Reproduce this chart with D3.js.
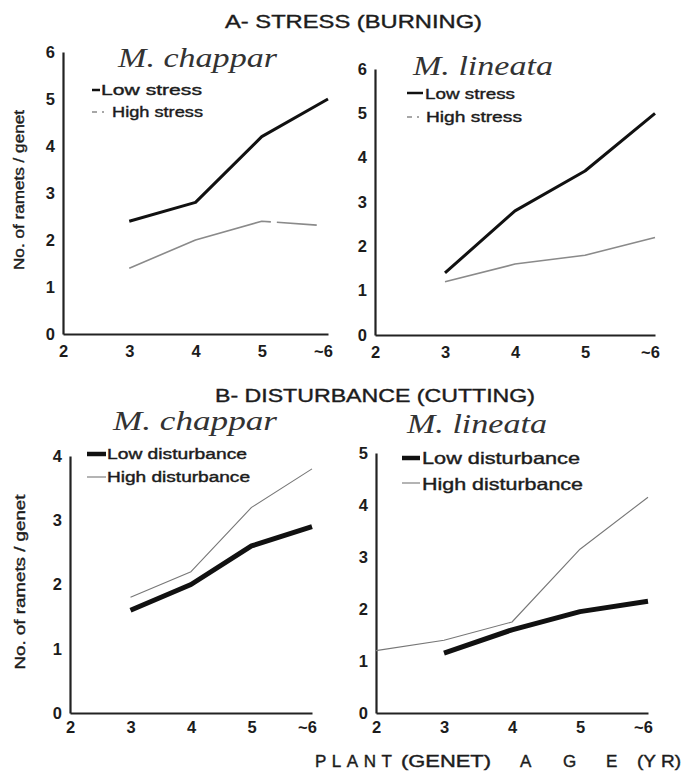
<!DOCTYPE html>
<html>
<head>
<meta charset="utf-8">
<script src="https://cdn.jsdelivr.net/npm/d3@7/dist/d3.min.js"></script>
<style>
  body { margin: 0; background: #fff; }
  svg text { fill: #1c1c1c; }
</style>
</head>
<body>
<svg width="683" height="780"></svg>
<script>
// ages on the x axis and their printed labels
var ages = [2, 3, 4, 5, 6];
var ageLabels = ["2", "3", "4", "5", "~6"];

// A - stress (burning)
var aChapparLow = [null, 2.4, 2.8, 4.2, 5.0];
var aChapparHigh = [null, 1.4, 2.0, 2.4, 2.3];
var aLineataLow = [null, 1.4, 2.8, 3.7, 5.0];
var aLineataHigh = [null, 1.2, 1.6, 1.8, 2.2];

// B - disturbance (cutting)
var bChapparLow = [null, 1.6, 2.0, 2.6, 2.9];
var bChapparHigh = [null, 1.8, 2.2, 3.2, 3.8];
var bLineataLow = [null, 1.15, 1.6, 1.95, 2.15];
var bLineataHigh = [1.2, 1.4, 1.75, 3.15, 4.15];

var stressNames = ["Low stress", "High stress"];
var disturbNames = ["Low disturbance", "High disturbance"];
var yTicksA = [0, 1, 2, 3, 4, 5, 6];
var yTicksBChappar = [0, 1, 2, 3, 4];
var yTicksBLineata = [0, 1, 2, 3, 4, 5];

var svg = d3.select("svg");
var sans = "'Liberation Sans', Arial, sans-serif";
var serif = "'Liberation Serif', 'Times New Roman', serif";

// text helper, width forced to match the scan
function label(x, y, str, size, opts) {
  opts = opts || {};
  var t = svg.append("text")
    .attr("x", x).attr("y", y)
    .attr("font-family", opts.family || sans)
    .attr("font-size", size)
    .attr("stroke", opts.family ? "none" : "#1c1c1c")
    .attr("stroke-width", opts.sw != null ? opts.sw : 0.4)
    .text(str);
  if (opts.italic) t.attr("font-style", "italic").style("fill", "#333");
  if (opts.len) t.attr("textLength", opts.len).attr("lengthAdjust", "spacingAndGlyphs");
  if (opts.ls) t.attr("letter-spacing", opts.ls);
  if (opts.rotate) t.attr("transform", "rotate(-90," + x + "," + y + ")").attr("text-anchor", "middle");
  return t;
}

function panel(p) {
  var x = d3.scaleLinear().domain([2, 6]).range(p.xr);
  var y = d3.scaleLinear().domain([0, p.yMax]).range(p.yr);
  var g = svg.append("g");

  var xAxis = g.append("g")
    .attr("transform", "translate(0," + p.yr[0] + ")")
    .call(d3.axisBottom(x).tickValues(ages).tickSize(0).tickPadding(p.xPad)
      .tickFormat(function(d, i) { return ageLabels[i]; }));
  var yAxis = g.append("g")
    .attr("transform", "translate(" + p.xr[0] + ",0)")
    .call(d3.axisLeft(y).tickValues(p.yTicks).tickSize(0).tickPadding(8).tickFormat(d3.format("d")));

  [xAxis, yAxis].forEach(function(a) {
    a.select(".domain").attr("stroke", "#222").attr("stroke-width", 2.2);
    a.selectAll("text").attr("font-family", sans).attr("font-size", 16.5)
      .attr("font-weight", "bold").attr("fill", "#222");
  });
  // the "~6" label sits a little left so its 6 lines up with the tick
  xAxis.selectAll(".tick text").filter(function(d) { return d === 6; }).attr("dx", -5);

  var line = d3.line()
    .defined(function(d) { return d != null; })
    .x(function(d, i) { return x(ages[i]); })
    .y(function(d) { return y(d); });

  p.series.forEach(function(s) {
    g.append("path")
      .attr("d", line(s.values))
      .attr("fill", "none")
      .attr("stroke", s.color)
      .attr("stroke-width", s.width)
      .attr("stroke-dasharray", s.dash || null)
      .attr("stroke-linejoin", "round");
  });
}

panel({
  xr: [63, 328], yr: [334, 52], yMax: 6, yTicks: yTicksA, xPad: 11,
  series: [
    {values: aChapparLow, color: "#111", width: 3},
    {values: aChapparHigh, color: "#8a8a8a", width: 1.6, dash: "150,6,40"}
  ]
});
panel({
  xr: [375, 655], yr: [335, 69], yMax: 6, yTicks: yTicksA, xPad: 11,
  series: [
    {values: aLineataLow, color: "#111", width: 3},
    {values: aLineataHigh, color: "#8a8a8a", width: 1.6}
  ]
});
panel({
  xr: [70, 312], yr: [713, 456], yMax: 4, yTicks: yTicksBChappar, xPad: 8,
  series: [
    {values: bChapparLow, color: "#111", width: 5},
    {values: bChapparHigh, color: "#777", width: 1.1}
  ]
});
panel({
  xr: [376, 648], yr: [713, 453], yMax: 5, yTicks: yTicksBLineata, xPad: 8,
  series: [
    {values: bLineataLow, color: "#111", width: 5},
    {values: bLineataHigh, color: "#777", width: 1.1}
  ]
});

// legend keys
function key(x1, x2, yy, color, width, dash) {
  svg.append("line").attr("x1", x1).attr("x2", x2).attr("y1", yy).attr("y2", yy)
    .attr("stroke", color).attr("stroke-width", width).attr("stroke-dasharray", dash || null);
}
key(92, 100, 90, "#111", 2.5);
label(101, 95, stressNames[0], 15, {len: 101});
key(92, 110, 112, "#8a8a8a", 1.6, "5,5,2,6");
label(112, 117, stressNames[1], 15, {len: 91});

key(407, 423, 93, "#111", 2.5);
label(425, 99, stressNames[0], 15, {len: 90});
key(407, 424, 117, "#8a8a8a", 1.6, "5,5,2,6");
label(426, 122, stressNames[1], 15, {len: 96});

key(87, 106, 454, "#111", 4.5);
label(107, 459, disturbNames[0], 14, {len: 140});
key(87, 106, 477, "#777", 1.1);
label(107, 482, disturbNames[1], 14, {len: 143});

key(402, 420, 458, "#111", 4.5);
label(422, 464, disturbNames[0], 16.5, {len: 158});
key(402, 420, 483, "#777", 1.1);
label(422, 490, disturbNames[1], 16.5, {len: 161});

// species names
label(118, 67, "M. chappar", 27, {family: serif, italic: true, len: 159});
label(413, 75, "M. lineata", 27, {family: serif, italic: true, len: 140});
label(113, 430, "M. chappar", 27, {family: serif, italic: true, len: 164});
label(407, 433, "M. lineata", 27, {family: serif, italic: true, len: 140});

// section titles
label(225, 28, "A- STRESS (BURNING)", 19, {len: 257});
label(215, 402, "B- DISTURBANCE (CUTTING)", 19, {len: 320});

// axis titles
label(24, 190, "No. of ramets / genet", 15, {rotate: true, len: 160});
label(25, 582, "No. of ramets / genet", 15.5, {rotate: true, len: 175});

// x title, spaced out piece by piece as in the scan
label(315, 767, "PLANT", 17, {ls: 5.5});
label(401, 767, "(GENET)", 17, {len: 90});
label(520, 767, "A", 17);
label(563, 767, "G", 17);
label(606, 767, "E", 17);
label(637, 767, "(Y R)", 17, {len: 44});
</script>
</body>
</html>
